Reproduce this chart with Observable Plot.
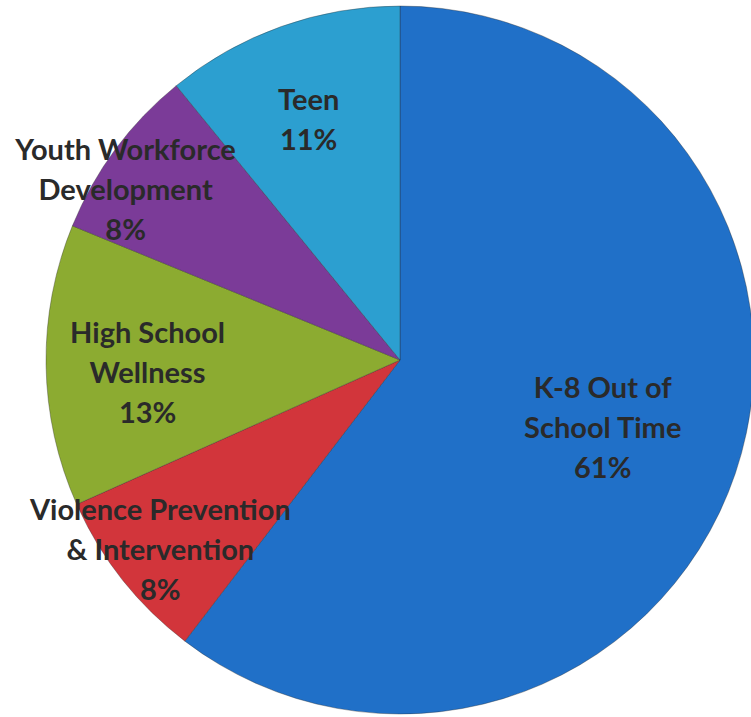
<!DOCTYPE html>
<html>
<head>
<meta charset="utf-8">
<script src="https://cdn.jsdelivr.net/npm/d3@7"></script>
<script src="https://cdn.jsdelivr.net/npm/@observablehq/plot@0.6"></script>
<style>
  html, body { margin: 0; padding: 0; background: #ffffff; }
  #chart svg { display: block; }
</style>
</head>
<body>
<div id="chart"></div>
<script>
// ---- data (clockwise from 12 o'clock) ----
const categories = [
  "K-8 Out of\nSchool Time",
  "Violence Prevention\n& Intervention",
  "High School\nWellness",
  "Youth Workforce\nDevelopment",
  "Teen"
];
const shares = [61, 8, 13, 8, 11];
const percentLabels = ["61%", "8%", "13%", "8%", "11%"];

// ---- styles / layout (not data) ----
const colors = ["#2070c8", "#d2353b", "#8cab31", "#7b3b98", "#2c9fd0"];
// Excel "best fit" label placement: radius fraction and angular nudge (degrees)
const labelRadius = [0.60, 0.86, 0.715, 0.918, 0.734];
const labelNudge = [-0.9, 0.4, -1.4, -4.3, -1.1];

const W = 751, H = 717;
const R = 354;            // pie radius in px
const cx = 400, cy = 360; // pie centre in px

const rows = categories.map((c, i) => ({
  name: c, value: shares[i], pct: percentLabels[i], color: colors[i],
  lr: labelRadius[i], nudge: labelNudge[i] * Math.PI / 180
}));
const arcs = d3.pie().sort(null).value(d => d.value)(rows);
const labels = arcs.map(a => {
  const m = (a.startAngle + a.endAngle) / 2 + a.data.nudge;
  return {
    text: a.data.name + "\n" + a.data.pct,
    x: Math.sin(m) * a.data.lr,
    y: Math.cos(m) * a.data.lr
  };
});

function pieMark(index, scales, values, dimensions, context) {
  const x0 = scales.x(0), y0 = scales.y(0);
  const r = scales.x(1) - scales.x(0);
  const arc = d3.arc().innerRadius(0).outerRadius(r);
  const g = d3.create("svg:g").attr("transform", `translate(${x0},${y0})`);
  g.selectAll("path")
    .data(arcs)
    .join("path")
    .attr("d", arc)
    .attr("fill", d => d.data.color)
    .attr("stroke", "rgba(40,40,40,0.35)")
    .attr("stroke-width", 1);
  return g.node();
}

const chart = Plot.plot({
  width: W,
  height: H,
  margin: 0,
  x: { domain: [-cx / R, (W - cx) / R], axis: null },
  y: { domain: [-(H - cy) / R, cy / R], axis: null },
  marks: [
    pieMark,
    Plot.text(labels, {
      x: "x", y: "y", text: "text",
      fontSize: 29,
      fontWeight: "bold",
      fontFamily: "Lato, 'Open Sans', sans-serif",
      lineHeight: 1.38,
      fill: "#2a2a2a"
    })
  ]
});
document.getElementById("chart").appendChild(chart);
</script>
</body>
</html>
